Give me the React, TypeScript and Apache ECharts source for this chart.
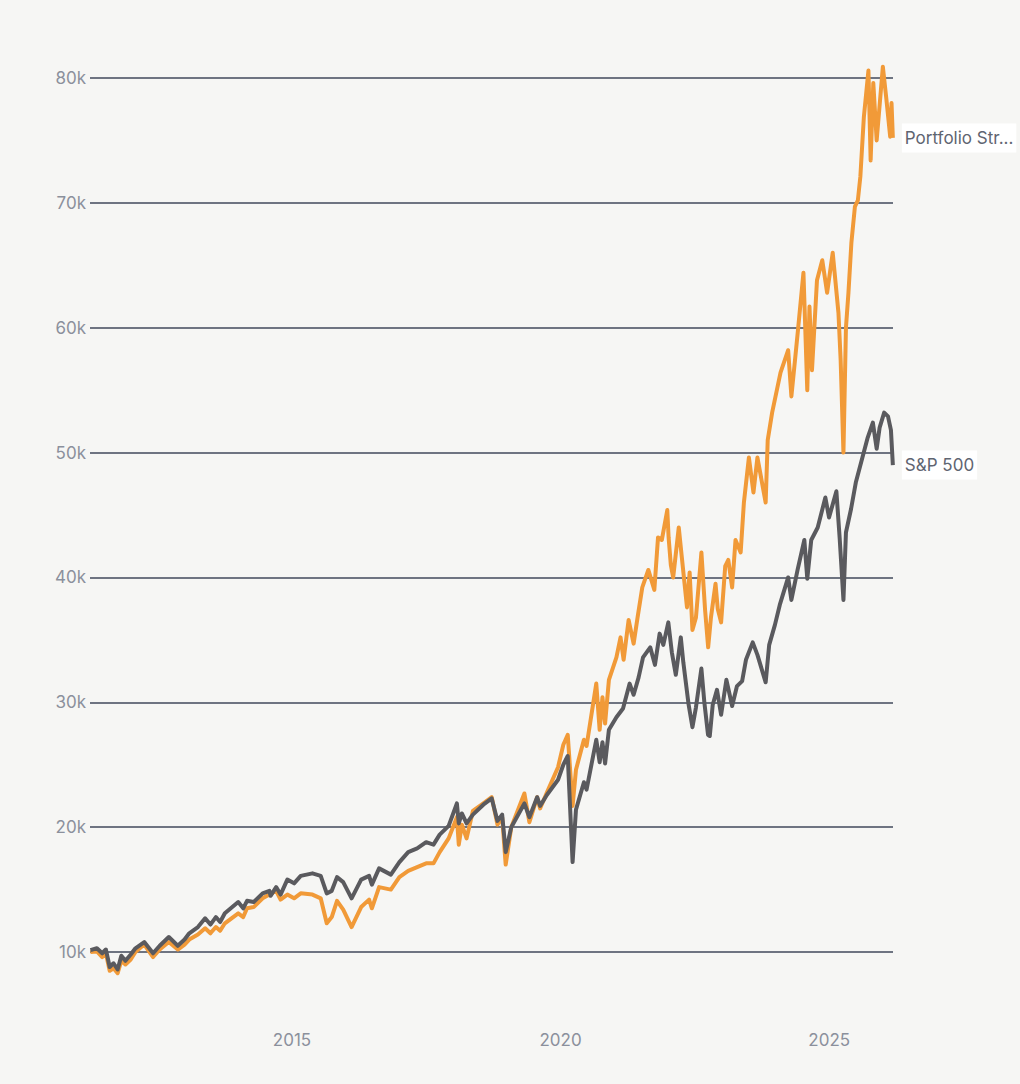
import React, { useEffect, useRef } from "react";
import * as echarts from "echarts";

const portfolioName = "Portfolio Strategy";
const benchmarkName = "S&P 500";

const benchmarkDates = [
  "2011-04-01","2011-05-15","2011-06-20","2011-07-15","2011-08-10","2011-09-05","2011-10-03","2011-10-28","2011-11-25","2011-12-31",
  "2012-02-01","2012-04-01","2012-05-31","2012-07-15","2012-09-15","2012-11-15","2012-12-31",
  "2013-02-01","2013-04-01","2013-05-20","2013-06-25","2013-08-01","2013-08-30","2013-10-01","2013-12-31",
  "2014-02-03","2014-03-01","2014-04-15","2014-06-15","2014-07-31","2014-08-08","2014-09-15","2014-10-15","2014-11-30",
  "2015-01-15","2015-03-01","2015-05-20","2015-07-15","2015-08-25","2015-09-28","2015-11-03","2015-12-15",
  "2016-02-10","2016-04-15","2016-06-08","2016-06-27","2016-08-15","2016-11-03","2016-12-31",
  "2017-03-01","2017-05-01","2017-07-01","2017-08-20","2017-10-01","2017-12-01",
  "2018-01-26","2018-02-08","2018-03-01","2018-04-02","2018-05-15","2018-07-25","2018-09-20","2018-10-29","2018-11-30","2018-12-24",
  "2019-01-31","2019-04-30","2019-06-03","2019-07-26","2019-08-15","2019-10-01","2019-12-15",
  "2020-01-20","2020-02-19","2020-03-23","2020-04-15","2020-06-08","2020-06-26","2020-08-31","2020-09-23","2020-10-12","2020-10-30","2020-11-25",
  "2021-01-15","2021-03-01","2021-04-15","2021-05-12","2021-06-15","2021-07-15","2021-09-02","2021-10-04","2021-11-05","2021-11-30",
  "2022-01-03","2022-01-27","2022-02-23","2022-03-29","2022-04-15","2022-05-20","2022-06-16","2022-07-10","2022-08-16","2022-09-05","2022-09-30","2022-10-12","2022-11-01","2022-11-30","2022-12-28",
  "2023-02-02","2023-03-13","2023-04-15","2023-05-20","2023-06-15","2023-07-31","2023-09-01","2023-10-27","2023-11-20","2023-12-29",
  "2024-01-31","2024-03-28","2024-04-19","2024-05-31","2024-07-16","2024-08-05","2024-09-01","2024-10-15","2024-12-06","2024-12-31",
  "2025-02-19","2025-03-13","2025-04-08","2025-04-25","2025-05-30","2025-07-01","2025-08-15","2025-09-20","2025-10-25","2025-11-20","2025-12-10",
  "2026-01-10","2026-02-05","2026-02-25","2026-03-10"
];
const benchmarkValues = [
  10150,10300,9900,10200,8800,9100,8600,9700,9300,9800,
  10300,10800,9900,10500,11200,10500,11000,
  11500,12000,12700,12200,12800,12400,13100,14000,
  13500,14100,14000,14700,14900,14500,15200,14600,15800,
  15500,16100,16300,16100,14700,14900,16000,15600,
  14300,15800,16100,15400,16700,16200,17200,
  18000,18300,18800,18600,19400,20100,
  21900,20300,21100,20300,21000,21800,22300,20500,21000,18000,
  20000,21900,20800,22400,21700,22600,23800,
  25000,25700,17200,21400,23600,23000,27000,25200,26800,25100,27800,
  28800,29500,31500,30600,32000,33600,34400,33000,35500,34600,
  36400,34000,32200,35200,33200,29900,28000,29600,32700,30000,27400,27300,29800,31000,29000,
  31800,29700,31300,31700,33400,34800,33800,31600,34600,36200,
  37800,40000,38200,40600,43000,39900,43000,44000,46400,44800,
  46900,43200,38200,43600,45500,47600,49600,51200,52400,50300,52000,
  53200,52900,51800,49000
];

const portfolioDates = [
  "2011-04-01","2011-05-15","2011-06-20","2011-07-15","2011-08-10","2011-09-05","2011-10-03","2011-10-28","2011-11-25","2011-12-31",
  "2012-02-01","2012-04-01","2012-05-31","2012-07-15","2012-09-15","2012-11-15","2012-12-31",
  "2013-02-01","2013-04-01","2013-05-20","2013-06-25","2013-08-01","2013-08-30","2013-10-01","2013-12-31",
  "2014-02-03","2014-03-01","2014-04-15","2014-06-15","2014-07-31","2014-09-15","2014-10-15","2014-11-30",
  "2015-01-15","2015-03-01","2015-05-20","2015-07-15","2015-08-25","2015-09-28","2015-11-03","2015-12-15",
  "2016-02-10","2016-04-15","2016-06-08","2016-06-27","2016-08-15","2016-11-03","2016-12-31",
  "2017-03-01","2017-05-01","2017-07-01","2017-08-20","2017-10-01","2017-12-01",
  "2018-01-26","2018-02-08","2018-03-01","2018-04-02","2018-05-15","2018-07-25","2018-09-20","2018-10-29","2018-11-30","2018-12-24",
  "2019-01-31","2019-04-30","2019-06-03","2019-07-26","2019-08-15","2019-10-01","2019-12-15",
  "2020-01-20","2020-02-19","2020-03-23","2020-04-15","2020-06-08","2020-06-26","2020-08-31","2020-09-23","2020-10-12","2020-10-30","2020-11-25",
  "2021-01-15","2021-02-12","2021-03-05","2021-04-08","2021-05-12","2021-06-08","2021-07-10","2021-08-20","2021-09-30","2021-10-25","2021-11-20","2021-12-27",
  "2022-01-05","2022-01-20","2022-02-05","2022-03-15","2022-04-05","2022-05-10","2022-05-28","2022-06-16","2022-07-10","2022-08-16","2022-09-10","2022-10-01","2022-10-20","2022-11-20","2022-12-05","2022-12-28",
  "2023-01-25","2023-02-15","2023-03-13","2023-04-05","2023-05-10","2023-06-01","2023-07-05","2023-08-05","2023-09-01","2023-10-27","2023-11-10","2023-12-10",
  "2024-02-05","2024-03-28","2024-04-19","2024-06-01","2024-07-10","2024-08-05","2024-08-20","2024-09-06","2024-10-10","2024-11-15","2024-12-18",
  "2025-01-25","2025-03-05","2025-03-20","2025-04-08","2025-04-25","2025-05-12","2025-06-01","2025-06-25","2025-07-15","2025-08-01","2025-08-25","2025-09-25","2025-10-10","2025-10-28","2025-11-20",
  "2026-01-01","2026-01-25","2026-02-20","2026-03-01","2026-03-10"
];
const portfolioValues = [
  10000,10050,9600,9900,8500,8700,8300,9300,9000,9400,
  10000,10600,9600,10200,10800,10200,10600,
  11000,11400,11900,11500,12000,11700,12300,13100,
  12800,13500,13600,14300,14600,14900,14200,14600,
  14300,14700,14600,14300,12300,12800,14100,13400,
  12000,13600,14200,13500,15200,15000,16000,
  16500,16800,17100,17100,18000,19100,
  20800,18600,20200,19100,21300,21900,22400,20200,20800,17000,
  20000,22700,20400,22400,21500,22800,24800,
  26600,27400,21700,24600,27000,26500,31500,27800,30400,28300,31800,
  33600,35200,33400,36600,34700,36800,39200,40600,39000,43200,43000,45400,
  43200,41000,40000,44000,41600,37600,40400,35800,36800,42000,37400,34400,36800,39500,37500,36400,
  40900,41400,39200,43000,42000,46000,49600,46800,49600,46000,51000,53200,
  56400,58200,54500,59600,64400,55000,61700,56600,63800,65400,62800,
  66000,61200,57400,50000,60000,62800,66800,69700,70200,72100,76900,80600,73400,79600,75000,
  80900,78300,75300,78000,75200
];

const yTickValues = [10000, 20000, 30000, 40000, 50000, 60000, 70000, 80000];
const xTickDates = ["2015-01-01", "2020-01-01", "2025-01-01"];
const xStart = "2011-03-29";
const xEnd = "2026-03-11";

const FONT = "Inter, 'Noto Sans', sans-serif";

const ts = (d: string) => {
  const [y, m, day] = d.split("-").map(Number);
  return Date.UTC(y, m - 1, day);
};

export default function App() {
  const ref = useRef<HTMLDivElement>(null);
  useEffect(() => {
    if (!ref.current) return;
    const chart = echarts.init(ref.current, null, { renderer: "svg" });
    const pf = portfolioDates.map((d, i) => [ts(d), portfolioValues[i]]);
    const bm = benchmarkDates.map((d, i) => [ts(d), benchmarkValues[i]]);
    const endLabel = {
      show: true,
      formatter: (p: any) => {
        const n = p.seriesName as string;
        return n.length > 13 ? n.slice(0, 13) + "..." : n;
      },
      backgroundColor: "#ffffff",
      padding: [6, 3, 6, 3],
      color: "#5f6571",
      fontSize: 17,
      lineHeight: 17,
      fontFamily: FONT,
      distance: 9,
    };
    chart.setOption({
      animation: false,
      backgroundColor: "#f6f6f4",
      grid: { left: 90, right: 127, top: 21.8, bottom: 65.8 },
      xAxis: {
        type: "value",
        min: ts(xStart),
        max: ts(xEnd),
        axisLine: { show: false },
        axisTick: { show: false },
        splitLine: { show: false },
        axisLabel: {
          customValues: xTickDates.map(ts),
          formatter: (v: number) => String(new Date(v).getUTCFullYear()),
          color: "#8b909c",
          fontSize: 17,
          fontFamily: FONT,
          margin: 13,
        },
      },
      yAxis: {
        type: "value",
        min: 4700,
        max: 84500,
        axisLine: { show: false },
        axisTick: { show: false },
        splitLine: { show: false },
        axisLabel: {
          customValues: yTickValues,
          formatter: (v: number) => v / 1000 + "k",
          color: "#8b909c",
          fontSize: 17,
          fontFamily: FONT,
          margin: 4,
        },
      },
      series: [
        {
          name: portfolioName,
          type: "line",
          data: pf,
          showSymbol: false,
          symbol: "none",
          lineStyle: { color: "#f19a38", width: 4, join: "round" },
          itemStyle: { color: "#f19a38" },
          endLabel,
          z: 2,
          markLine: {
            silent: true,
            symbol: ["none", "none"],
            label: { show: false },
            lineStyle: { color: "#6e7481", width: 2, type: "solid" },
            data: yTickValues.map((v) => ({ yAxis: v })),
            z: 1,
          },
        },
        {
          name: benchmarkName,
          type: "line",
          data: bm,
          showSymbol: false,
          symbol: "none",
          lineStyle: { color: "#5a5a5e", width: 4, join: "round" },
          itemStyle: { color: "#5a5a5e" },
          endLabel,
          z: 3,
        },
      ],
    });
    return () => chart.dispose();
  }, []);
  return (
    <div
      ref={ref}
      style={{ position: "absolute", left: 0, top: 0, width: 1020, height: 1084 }}
    />
  );
}
